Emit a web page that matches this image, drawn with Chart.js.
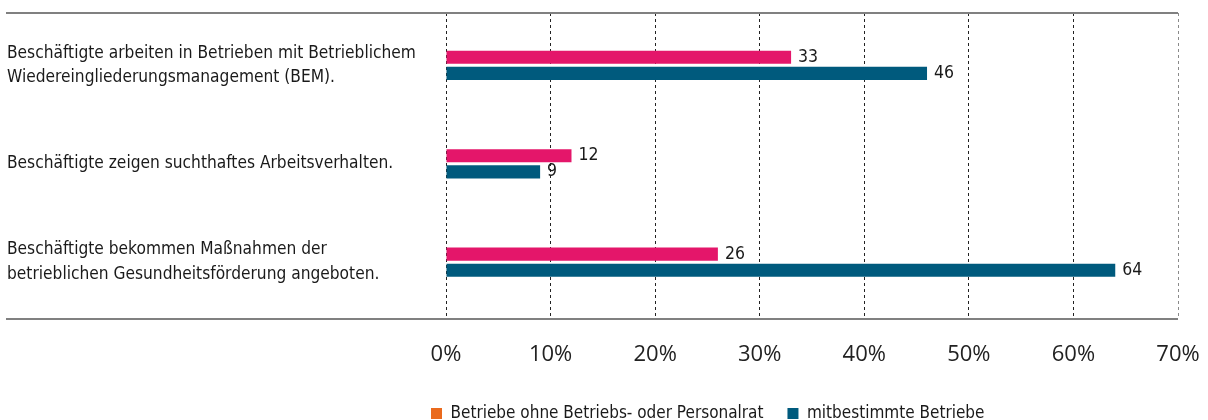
<!DOCTYPE html>
<html lang="de">
<head>
<meta charset="utf-8">
<title>BEM und Gesundheitsförderung</title>
<script src="https://cdn.jsdelivr.net/npm/chart.js@4.4.1/dist/chart.umd.min.js"></script>
<style>
  html, body { margin: 0; padding: 0; background: #fff; overflow: hidden; }
  #wrap { width: 1208px; height: 420px; }
</style>
</head>
<body>
<div id="wrap"><canvas id="grafik" width="1208" height="420"></canvas></div>
<script>
// Daten
const kategorien = [
    ['Beschäftigte arbeiten in Betrieben mit Betrieblichem', 'Wiedereingliederungsmanagement (BEM).'],
    ['Beschäftigte zeigen suchthaftes Arbeitsverhalten.'],
    ['Beschäftigte bekommen Maßnahmen der', 'betrieblichen Gesundheitsförderung angeboten.']
];
const ohneRat = [33, 12, 26];
const mitbestimmt = [46, 9, 64];
const serienNamen = ['Betriebe ohne Betriebs- oder Personalrat', 'mitbestimmte Betriebe'];
const balkenFarben = ['#e4166a', '#005a7d'];
const legendenFarben = ['#ea6a1d', '#005a7d'];
const xTickLabels = ['0%', '10%', '20%', '30%', '40%', '50%', '60%', '70%'];

const schmal = '"DejaVu Sans Condensed", "Liberation Sans Narrow", sans-serif';
const textFarbe = '#1a1a1a';

// Rahmenlinien oben und unten (gehen bis unter die Beschriftungen)
const rahmenLinien = {
    id: 'rahmenLinien',
    afterDraw(chart) {
        const ctx = chart.ctx;
        const area = chart.chartArea;
        const links = chart.scales.y.left - 1;
        ctx.save();
        ctx.strokeStyle = '#808080';
        ctx.lineWidth = 2;
        ctx.beginPath();
        ctx.moveTo(links, area.top);
        ctx.lineTo(area.right, area.top);
        ctx.moveTo(links, area.bottom);
        ctx.lineTo(area.right, area.bottom);
        ctx.stroke();
        ctx.restore();
    }
};

// Werte neben den Balken
const wertLabels = {
    id: 'wertLabels',
    afterDatasetsDraw(chart) {
        const ctx = chart.ctx;
        ctx.save();
        ctx.font = '17.5px ' + schmal;
        ctx.fillStyle = textFarbe;
        ctx.textBaseline = 'middle';
        ctx.textAlign = 'left';
        chart.data.datasets.forEach((ds, i) => {
            chart.getDatasetMeta(i).data.forEach((bar, j) => {
                ctx.fillText(String(ds.data[j].x), bar.x + 7, bar.y);
            });
        });
        ctx.restore();
    }
};

// Legende an die Position aus der Vorlage schieben
const legendePosition = {
    id: 'legendePosition',
    afterLayout(chart) {
        const lg = chart.legend;
        const pad = lg.options.labels.padding;
        const h = lg.height;
        lg.left = 431 - pad;
        lg.right = chart.width;
        lg.top = 381;
        lg.bottom = lg.top + h;
    }
};

const ctx = document.getElementById('grafik').getContext('2d');
new Chart(ctx, {
    type: 'bar',
    data: {
        datasets: [
            {
                label: serienNamen[0],
                data: ohneRat.map((v, i) => ({ x: v, y: i })),
                backgroundColor: balkenFarben[0]
            },
            {
                label: serienNamen[1],
                data: mitbestimmt.map((v, i) => ({ x: v, y: i })),
                backgroundColor: balkenFarben[1]
            }
        ]
    },
    options: {
        indexAxis: 'y',
        responsive: false,
        animation: false,
        categoryPercentage: 0.3273,
        barPercentage: 0.8125,
        layout: { padding: { left: 7, right: 30, top: 13, bottom: 0 } },
        scales: {
            x: {
                type: 'linear',
                min: 0,
                max: 70,
                ticks: {
                    stepSize: 10,
                    padding: 23,
                    color: '#222',
                    font: { family: '"Open Sans", sans-serif', size: 22 },
                    callback: (v, i) => xTickLabels[i]
                },
                grid: {
                    drawTicks: false,
                    lineWidth: 1,
                    color: c => (c.index === xTickLabels.length - 1 ? '#8a8a8a' : '#222')
                },
                border: { display: false, dash: [3, 3] },
                afterFit(scale) {
                    scale.height = 50;
                    scale.paddingLeft = 0;
                    scale.paddingRight = 0;
                }
            },
            y: {
                type: 'linear',
                reverse: true,
                offset: false,
                min: -0.532,
                max: 2.577,
                ticks: {
                    stepSize: 1,
                    includeBounds: false,
                    crossAlign: 'far',
                    color: textFarbe,
                    font: { family: schmal, size: 17.2, lineHeight: 1.42 },
                    callback: v => (Number.isInteger(v) ? kategorien[v] : '')
                },
                grid: { display: false, drawTicks: false },
                border: { display: false },
                afterFit(scale) {
                    scale.width = 439;
                    scale.paddingTop = 0;
                    scale.paddingBottom = 0;
                }
            }
        },
        plugins: {
            tooltip: { enabled: false },
            legend: {
                position: 'bottom',
                align: 'start',
                labels: {
                    boxWidth: 11,
                    boxHeight: 11,
                    padding: 24,
                    color: textFarbe,
                    font: { family: schmal, size: 17 },
                    generateLabels: () => serienNamen.map((name, i) => ({
                        text: name,
                        fillStyle: legendenFarben[i],
                        strokeStyle: legendenFarben[i],
                        lineWidth: 0,
                        hidden: false,
                        datasetIndex: i,
                        fontColor: textFarbe
                    }))
                }
            }
        }
    },
    plugins: [rahmenLinien, wertLabels, legendePosition]
});
</script>
</body>
</html>
